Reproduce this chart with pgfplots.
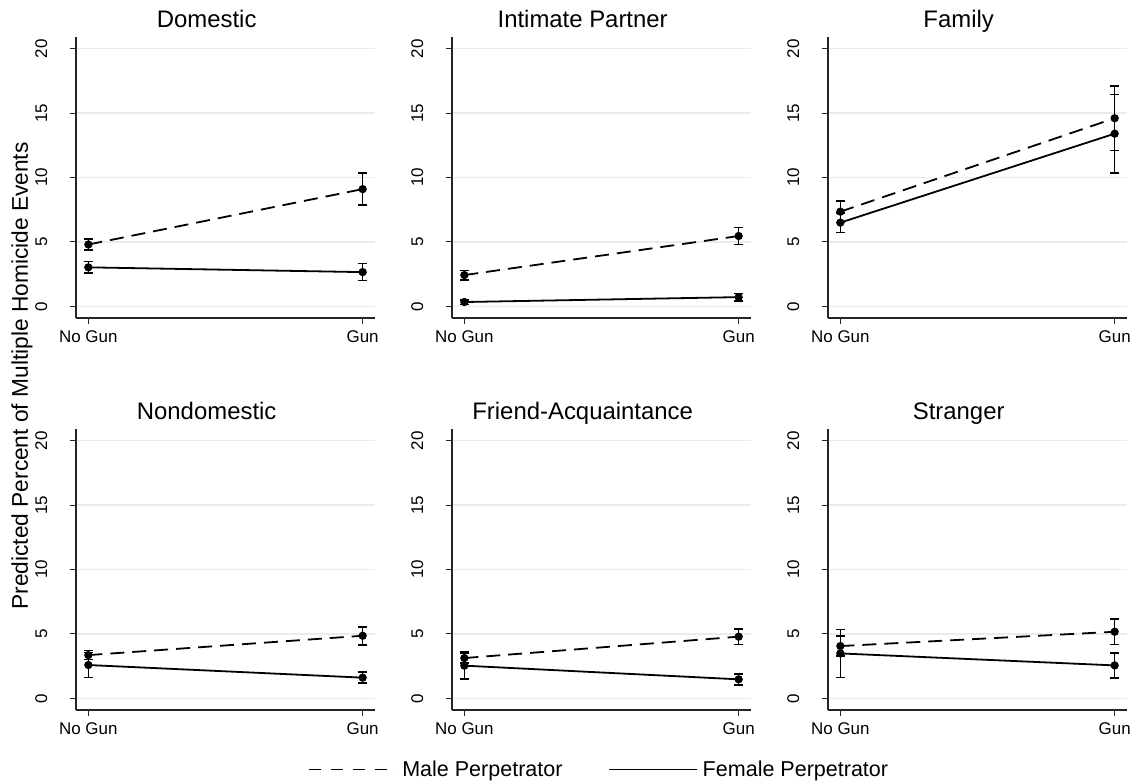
\documentclass[border=0pt]{standalone}
\usepackage{fontspec}
\setmainfont{Liberation Sans}
\usepackage{graphicx}
\usepackage{pgfplots}
\pgfplotsset{compat=1.18}
\pgfplotsset{
  every axis title/.style={at={(0.437,1)}, anchor=base, yshift=5bp, font=\fontsize{12}{14}\selectfont},
  panel/.style={
    scale only axis, width=149.5bp, height=140.5bp,
    xmin=-0.045, xmax=1.045, ymin=-0.9, ymax=20.9,
    xtick={0,1}, xticklabels={No Gun, Gun},
    ytick={0,5,10,15,20},
    yticklabel={\rotatebox{90}{\pgfmathprintnumber{\tick}}},
    axis x line*=bottom, axis y line*=left,
    axis line style={-, line width=0.6bp, black!85},
    every outer x axis line/.append style={-},
    every outer y axis line/.append style={-},
    tick align=outside, major tick length=2.8bp,
    tick style={line width=0.5bp, black!85},
    ymajorgrids, grid style={line width=0.6bp, color=black!8},
    /pgf/number format/assume math mode=true,
    ticklabel style={font=\fontsize{8.5}{10}\selectfont},
    yticklabel style={anchor=east, xshift=-8bp},
    clip=false,
  },
  male/.style={black, line width=0.9bp, dash pattern=on 7bp off 4bp,
    mark=*, mark size=1.6bp, mark options={solid},
    error bars/.cd, y dir=both, y explicit,
    error bar style={solid, line width=0.8bp},
    error mark options={rotate=90, mark size=2.3bp, line width=0.8bp, solid}},
  female/.style={black, line width=0.9bp, solid,
    mark=*, mark size=1.6bp, mark options={solid},
    error bars/.cd, y dir=both, y explicit,
    error bar style={solid, line width=0.8bp},
    error mark options={rotate=90, mark size=2.3bp, line width=0.8bp, solid}},
}
\begin{document}
\begin{tikzpicture}
\useasboundingbox (0,0) rectangle (568bp,-391bp);

% Row 1
\begin{axis}[panel, at={(38bp,-159bp)}, anchor=south west, title={Domestic}]
\addplot[male] coordinates {(0,4.80) +- (0,0.43) (1,9.10) +- (0,1.24)};
\addplot[female] coordinates {(0,3.03) +- (0,0.45) (1,2.66) +- (0,0.66)};
\end{axis}
\begin{axis}[panel, at={(226bp,-159bp)}, anchor=south west, title={Intimate Partner}]
\addplot[male] coordinates {(0,2.43) +- (0,0.36) (1,5.46) +- (0,0.65)};
\addplot[female] coordinates {(0,0.34) +- (0,0.18) (1,0.72) +- (0,0.28)};
\end{axis}
\begin{axis}[panel, at={(414bp,-159bp)}, anchor=south west, title={Family}]
\addplot[male] coordinates {(0,7.35) +- (0,0.85) (1,14.60) +- (0,2.50)};
\addplot[female] coordinates {(0,6.50) +- (0,0.76) (1,13.40) +- (0,3.05)};
\end{axis}

% Row 2
\begin{axis}[panel, at={(38bp,-355bp)}, anchor=south west, title={Nondomestic}]
\addplot[male] coordinates {(0,3.36) +- (0,0.35) (1,4.86) +- (0,0.70)};
\addplot[female] coordinates {(0,2.59) +- (0,0.96) (1,1.61) +- (0,0.42)};
\end{axis}
\begin{axis}[panel, at={(226bp,-355bp)}, anchor=south west, title={Friend-Acquaintance},
  legend image code/.code={\draw[#1] (0bp,0bp) -- (44bp,0bp);},
  legend style={at={(0.497,-0.213)}, anchor=center, draw=none, fill=none,
    legend columns=2, font=\fontsize{10.8}{12}\selectfont,
    nodes={inner xsep=2.5bp},
    /tikz/every even column/.append style={column sep=20.5bp}}]
\addplot[forget plot, male] coordinates {(0,3.13) +- (0,0.36) (1,4.79) +- (0,0.60)};
\addplot[forget plot, female] coordinates {(0,2.54) +- (0,1.04) (1,1.48) +- (0,0.42)};
\addlegendimage{black, line width=0.6bp, dash pattern=on 6bp off 5bp}
\addlegendentry{Male Perpetrator}
\addlegendimage{black, line width=0.6bp, solid}
\addlegendentry{Female Perpetrator}
\end{axis}
\begin{axis}[panel, at={(414bp,-355bp)}, anchor=south west, title={Stranger}]
\addplot[male] coordinates {(0,4.06) +- (0,0.76) (1,5.17) +- (0,0.98)};
\addplot[female] coordinates {(0,3.49) +- (0,1.87) (1,2.56) +- (0,0.97)};
\end{axis}

\node[rotate=90, font=\fontsize{11.4}{13}\selectfont] at (11bp,-188bp) {Predicted Percent of Multiple Homicide Events};
\end{tikzpicture}
\end{document}
